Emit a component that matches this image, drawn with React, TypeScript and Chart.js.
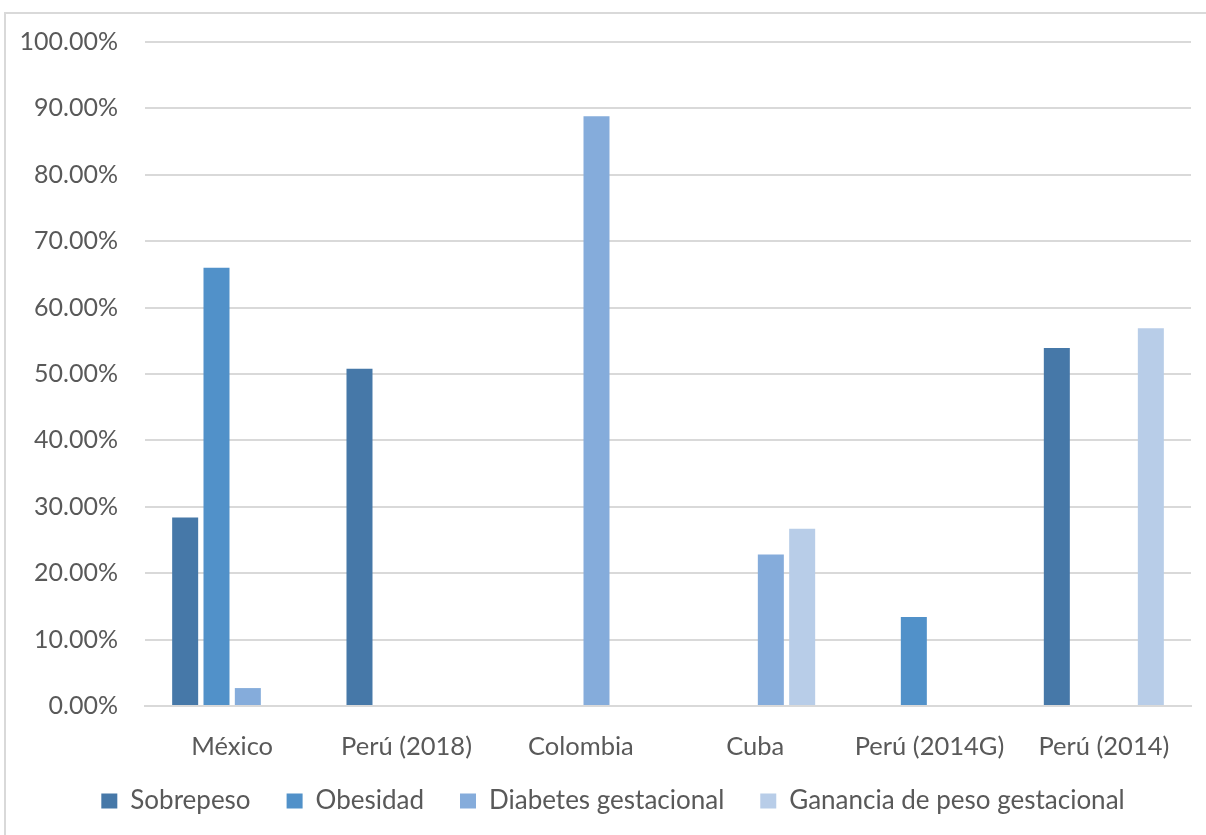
import React, { useEffect, useRef } from "react";
import { Chart, registerables } from "chart.js";

Chart.register(...registerables);

// Categories and series (percent values)
const categories = ["México", "Perú (2018)", "Colombia", "Cuba", "Perú (2014G)", "Perú (2014)"];
const sobrepeso = [28.4, 50.8, null, null, null, 53.9];
const obesidad = [66.0, null, null, null, 13.4, null];
const diabetesGestacional = [2.7, null, 88.8, 22.8, null, null];
const gananciaPeso = [null, null, null, 26.7, null, 56.9];
const seriesNames = ["Sobrepeso", "Obesidad", "Diabetes gestacional", "Ganancia de peso gestacional"];
const seriesColors = ["#4678a8", "#5191c9", "#85acdb", "#b8cde8"];

const FONT = "Lato, 'Open Sans', sans-serif";
const TEXT = "#595959";
const GRID = "#d9d9d9";
const LEGEND_FONT = 26;
const LEGEND_PAD = 36;

// Places the legend row: horizontal centre and vertical centre of its items.
const legendPlacement = {
  id: "legendPlacement",
  afterLayout(chart: any) {
    const lg = chart.legend;
    if (!lg) return;
    const dx = 613 - (lg.left + lg.right) / 2;
    const dy = 801 - (lg.top + LEGEND_PAD + LEGEND_FONT / 2);
    lg.left += dx;
    lg.right += dx;
    lg.top += dy;
    lg.bottom += dy;
  },
};

export default function App() {
  const canvasRef = useRef<HTMLCanvasElement | null>(null);

  useEffect(() => {
    const canvas = canvasRef.current;
    if (!canvas) return;
    const seriesData = [sobrepeso, obesidad, diabetesGestacional, gananciaPeso];
    const chart = new Chart(canvas, {
      type: "bar",
      data: {
        labels: categories,
        datasets: seriesData.map((d, i) => ({
          label: seriesNames[i],
          data: d,
          backgroundColor: seriesColors[i],
          borderWidth: 0,
          categoryPercentage: 0.719,
          barPercentage: 0.83,
        })),
      },
      plugins: [legendPlacement],
      options: {
        responsive: false,
        animation: false,
        devicePixelRatio: 1,
        layout: { padding: { top: 33, right: 15, bottom: 0, left: 0 } },
        plugins: {
          tooltip: { enabled: false },
          legend: {
            position: "bottom",
            labels: {
              boxWidth: 16,
              boxHeight: 15,
              padding: LEGEND_PAD,
              color: TEXT,
              font: { family: FONT, size: LEGEND_FONT },
            },
          },
        },
        scales: {
          x: {
            grid: { display: false, drawTicks: false },
            border: { display: true, color: GRID, width: 2 },
            ticks: { color: TEXT, font: { family: FONT, size: 25.5 }, padding: 25, maxRotation: 0 },
            afterFit: (scale: any) => {
              scale.height = 57;
            },
          },
          y: {
            min: 0,
            max: 100,
            grid: { color: GRID, lineWidth: 2, drawTicks: false },
            border: { display: false },
            ticks: {
              stepSize: 10,
              color: TEXT,
              padding: 27,
              font: { family: FONT, size: 25 },
              callback: (v: any) => Number(v).toFixed(2) + "%",
            },
            afterFit: (scale: any) => {
              scale.width = 145;
            },
          },
        },
      },
    });
    return () => chart.destroy();
  }, []);

  return (
    <div style={{ position: "absolute", left: 0, top: 0, width: 1206, height: 835, background: "#fff", overflow: "hidden" }}>
      <div
        style={{
          position: "absolute",
          left: 4,
          top: 12,
          width: 1210,
          height: 830,
          borderLeft: `2px solid ${GRID}`,
          borderTop: `2px solid ${GRID}`,
        }}
      />
      <canvas ref={canvasRef} width={1206} height={835} style={{ position: "absolute", left: 0, top: 0 }} />
    </div>
  );
}
